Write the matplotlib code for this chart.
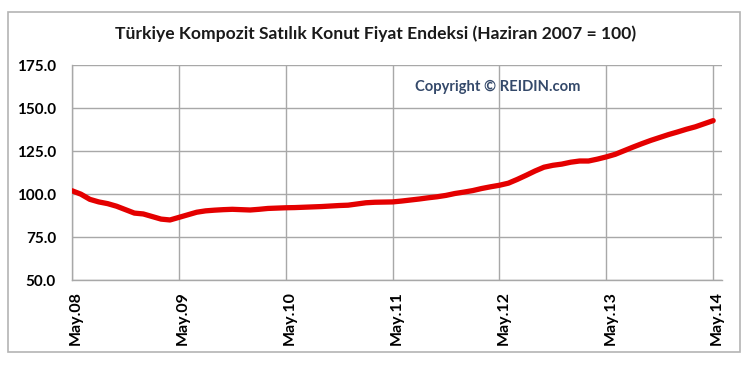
import matplotlib
matplotlib.use("Agg")
import matplotlib.pyplot as plt
import matplotlib.transforms as mtransforms
from matplotlib.patches import Rectangle

# Aylık endeks değerleri, Mayıs 2008 - Mayıs 2014
values = [
    102.0, 100.0, 97.0, 95.5, 94.5, 93.0, 91.0, 89.0, 88.5, 87.0, 85.5, 85.0,
    86.5, 88.0, 89.5, 90.3, 90.7, 91.0, 91.2, 91.0, 90.8, 91.2, 91.7, 91.9,
    92.1, 92.2, 92.4, 92.6, 92.8, 93.1, 93.4, 93.6, 94.3, 95.0, 95.3, 95.4,
    95.5, 96.0, 96.6, 97.2, 97.9, 98.5, 99.3, 100.4, 101.2, 102.1, 103.3, 104.3,
    105.2, 106.4, 108.6, 111.0, 113.5, 115.7, 116.8, 117.5, 118.6, 119.3, 119.3, 120.4,
    121.7, 123.2, 125.3, 127.4, 129.4, 131.3, 133.0, 134.7, 136.2, 137.8, 139.2, 141.0,
    142.8,
]
months = list(range(len(values)))
tick_labels = ["May.08", "May.09", "May.10", "May.11", "May.12", "May.13", "May.14"]
tick_pos = [12 * i for i in range(len(tick_labels))]
y_ticks = [50, 75, 100, 125, 150, 175]

plt.rcParams["font.family"] = ["Lato", "DejaVu Sans"]

fig = plt.figure(figsize=(7.55, 3.73), dpi=100)
fig.patch.set_facecolor("white")

# dış çerçeve
fig.patches.append(Rectangle((0.0106, 0.056), 0.9695, 0.912, transform=fig.transFigure,
                             fill=False, edgecolor="#b4b4b4", linewidth=1.2))

ax = fig.add_axes([0.0954, 0.249, 0.861, 0.576])
ax.plot(months, values, color="#e40000", linewidth=3.8, solid_capstyle="round",
        solid_joinstyle="round", zorder=3)

ax.set_xlim(0, 73)
ax.set_ylim(50, 175)
ax.set_xticks(tick_pos)
ax.set_xticklabels(tick_labels, rotation=90, fontsize=11.5, fontweight="bold")
ax.set_yticks(y_ticks)
ax.set_yticklabels([f"{v:.1f}" for v in y_ticks], fontsize=11, fontweight="bold")
ax.tick_params(axis="y", length=0, pad=11.5)
ax.tick_params(axis="x", length=0, pad=8)
ax.grid(True, color="#a8a8a8", linewidth=1.0)
ax.set_axisbelow(True)
for s in ["right", "top"]:
    ax.spines[s].set_visible(False)
for s in ["left", "bottom"]:
    ax.spines[s].set_color("#a8a8a8")
    ax.spines[s].set_linewidth(1.0)

# x etiketlerini biraz sağa kaydır
shift = mtransforms.ScaledTranslation(4 / 100, 0, fig.dpi_scale_trans)
for lbl in ax.get_xticklabels():
    lbl.set_transform(lbl.get_transform() + shift)

ax.text(47.8, 162.5, "Copyright © REIDIN.com", color="#34496a", fontsize=10.6,
        fontweight="bold", ha="center", va="center")

fig.text(0.498, 0.909, "Türkiye Kompozit Satılık Konut Fiyat Endeksi (Haziran 2007 = 100)",
         ha="center", va="center", fontsize=12.6, fontweight="bold", color="#1a1a1a")

fig.savefig("out.png", dpi=100)
